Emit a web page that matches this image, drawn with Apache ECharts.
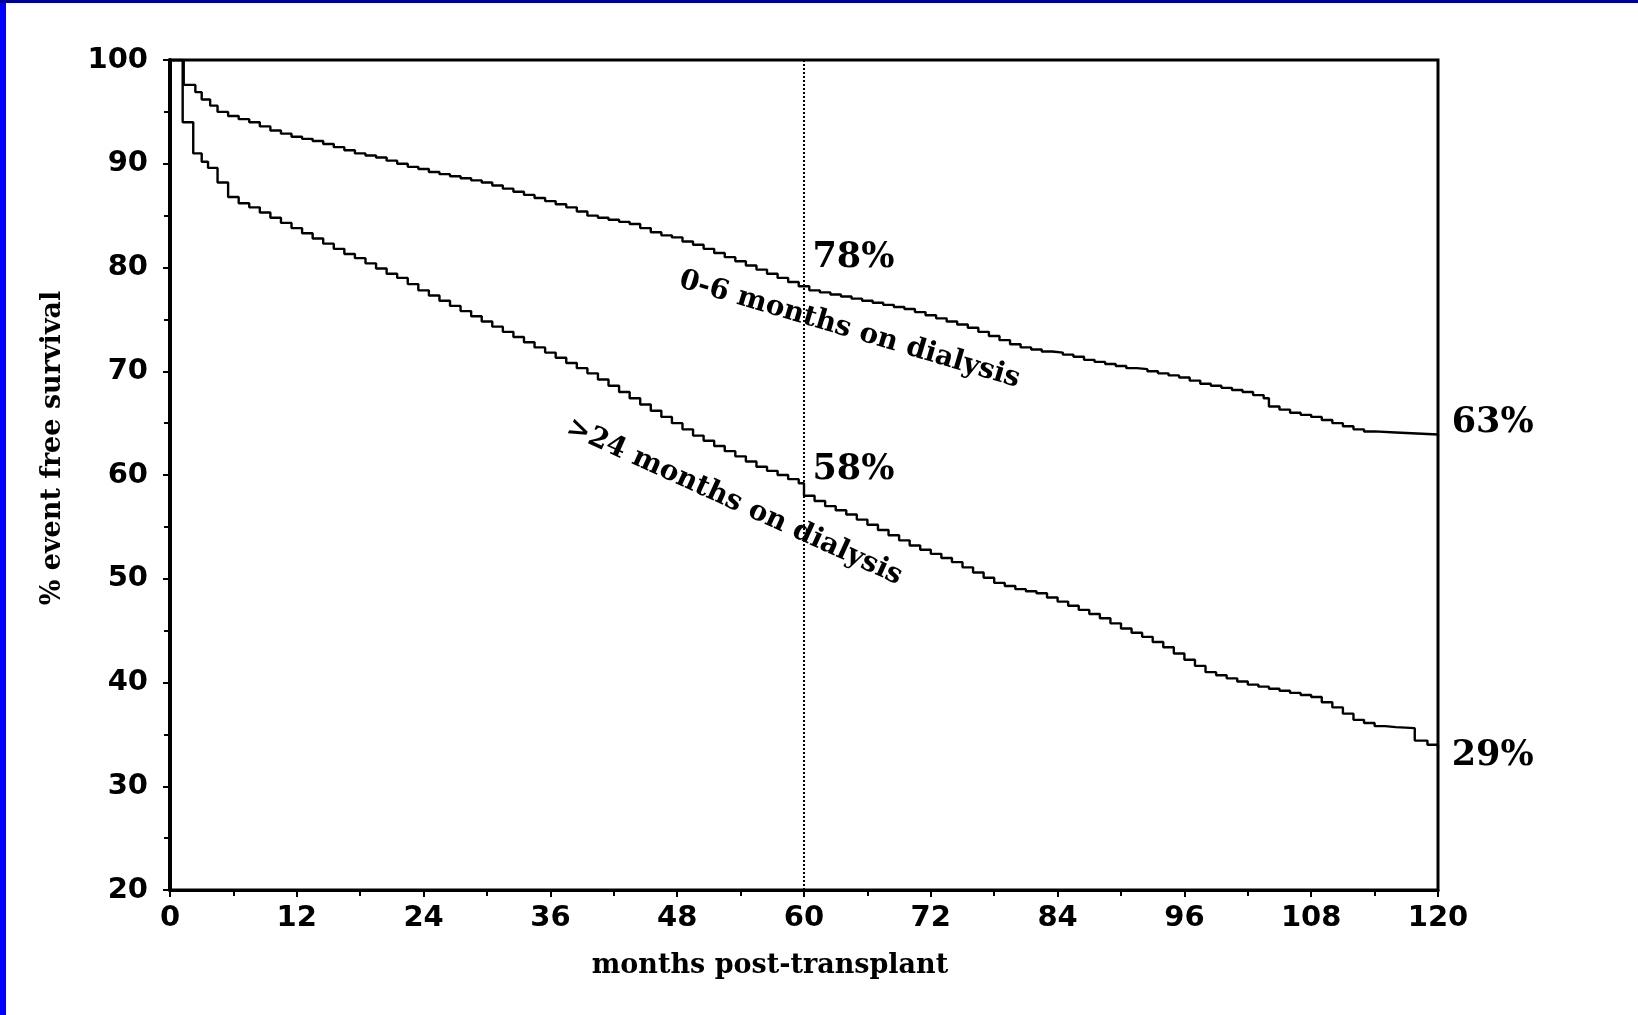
<!DOCTYPE html>
<html lang="en">
<head>
    <meta charset="UTF-8">
    <title>event free survival</title>
    <style>
        html, body { margin: 0; padding: 0; background: #fff; }
        #chart { width: 1638px; height: 1015px; }
        /* slide edges */
        .edge-left { position: absolute; left: 0; top: 0; width: 6px; height: 1015px; background: #0000ff; }
        .edge-top { position: absolute; left: 0; top: 0; width: 1638px; height: 3px; background: #000099; }
    </style>
</head>
<body>
<div id="chart"></div>
<div class="edge-left"></div>
<div class="edge-top"></div>

<script src="https://cdn.jsdelivr.net/npm/echarts@6/dist/echarts.min.js"></script>
<script>
    // ticks
    let xTicks = [0, 12, 24, 36, 48, 60, 72, 84, 96, 108, 120];
    let yTicks = [20, 30, 40, 50, 60, 70, 80, 90, 100];

    // months post-transplant / % event free
    let shortMonths = [0, 1.3, 2.4, 3, 3.8, 4.5, 5.5, 6.5, 7.5, 8.5, 9.5, 10.5, 11.5, 12.5, 13.5, 14.5, 15.5, 16.5, 17.5, 18.5, 19.5,
        20.5, 21.5, 22.5, 23.5, 24.5, 25.5, 26.5, 27.5, 28.5, 29.5, 30.5, 31.5, 32.5, 33.5, 34.5, 35.5, 36.5, 37.5, 38.5, 39.5,
        40.5, 41.5, 42.5, 43.5, 44.5, 45.5, 46.5, 47.5, 48.5, 49.5, 50.5, 51.5, 52.5, 53.5, 54.5, 55.5, 56.5, 57.5, 58.5, 59.5,
        60.5, 61.5, 62.5, 63.5, 64.5, 65.5, 66.5, 67.5, 68.5, 69.5, 70.5, 71.5, 72.5, 73.5, 74.5, 75.5, 76.5, 77.5, 78.5, 79.5,
        80.5, 81.5, 82.5, 83.5, 84.5, 85.5, 86.5, 87.5, 88.5, 89.5, 90.5, 91.5, 92.5, 93.5, 94.5, 95.5, 96.5, 97.5, 98.5, 99.5,
        100.5, 101.5, 102.5, 103.5, 104, 105, 106, 107, 108, 109, 110, 111, 112, 113, 114, 116, 118, 120];
    let shortSurv = [100, 97.6, 96.9, 96.2, 95.6, 95.0, 94.6, 94.3, 94.0, 93.6, 93.2, 92.9, 92.6, 92.4, 92.2, 91.9, 91.6, 91.3, 91.0, 90.8, 90.6,
        90.3, 90.0, 89.7, 89.5, 89.2, 89.0, 88.8, 88.6, 88.4, 88.2, 87.9, 87.6, 87.3, 87.0, 86.7, 86.4, 86.1, 85.8, 85.4, 85.0,
        84.8, 84.6, 84.4, 84.2, 83.8, 83.4, 83.1, 82.9, 82.5, 82.2, 81.8, 81.4, 81.0, 80.6, 80.2, 79.8, 79.4, 79.0, 78.6, 78.2,
        77.8, 77.6, 77.4, 77.2, 77.0, 76.8, 76.6, 76.4, 76.2, 76.0, 75.7, 75.4, 75.1, 74.8, 74.5, 74.2, 73.8, 73.4, 73.0, 72.6,
        72.3, 72.1, 71.9, 71.8, 71.6, 71.4, 71.1, 70.9, 70.7, 70.5, 70.3, 70.2, 70.0, 69.8, 69.6, 69.4, 69.1, 68.8, 68.6, 68.4,
        68.2, 68.0, 67.7, 67.4, 66.6, 66.3, 66.0, 65.8, 65.6, 65.3, 65.0, 64.7, 64.4, 64.2, 64.1, 64.0, 63.9, 63.8];

    let longMonths = [0, 1.2, 2.2, 3, 3.6, 4.5, 5.5, 6.5, 7.5, 8.5, 9.5, 10.5, 11.5, 12.5, 13.5, 14.5, 15.5, 16.5, 17.5, 18.5, 19.5,
        20.5, 21.5, 22.5, 23.5, 24.5, 25.5, 26.5, 27.5, 28.5, 29.5, 30.5, 31.5, 32.5, 33.5, 34.5, 35.5, 36.5, 37.5, 38.5, 39.5,
        40.5, 41.5, 42.5, 43.5, 44.5, 45.5, 46.5, 47.5, 48.5, 49.5, 50.5, 51.5, 52.5, 53.5, 54.5, 55.5, 56.5, 57.5, 58.5, 59.5,
        60, 61, 62, 63, 64, 65, 66, 67, 68, 69, 70, 71, 72, 73, 74, 75, 76, 77, 78, 79,
        80, 81, 82, 83, 84, 85, 86, 87, 88, 89, 90, 91, 92, 93, 94, 95, 96, 97, 98, 99,
        100, 101, 102, 103, 104, 105, 106, 107, 108, 109, 110, 111, 112, 113, 114, 115, 116, 117.8, 119, 120];
    let longSurv = [100, 94.0, 91.0, 90.2, 89.6, 88.2, 86.8, 86.2, 85.8, 85.3, 84.8, 84.3, 83.8, 83.3, 82.8, 82.3, 81.8, 81.3, 80.9, 80.4, 79.9,
        79.4, 79.0, 78.4, 77.8, 77.3, 76.8, 76.3, 75.8, 75.3, 74.8, 74.3, 73.8, 73.3, 72.8, 72.3, 71.8, 71.3, 70.8, 70.3, 69.8,
        69.2, 68.6, 68.0, 67.4, 66.8, 66.2, 65.6, 65.0, 64.4, 63.8, 63.3, 62.8, 62.3, 61.8, 61.3, 60.8, 60.4, 60.0, 59.6, 59.2,
        58.0, 57.5, 57.0, 56.6, 56.2, 55.7, 55.2, 54.7, 54.2, 53.7, 53.2, 52.8, 52.4, 52.0, 51.6, 51.1, 50.6, 50.1, 49.6, 49.3,
        49.0, 48.8, 48.6, 48.2, 47.8, 47.4, 47.0, 46.6, 46.2, 45.7, 45.2, 44.8, 44.4, 43.9, 43.4, 42.8, 42.2, 41.6, 41.0, 40.7,
        40.4, 40.1, 39.8, 39.6, 39.4, 39.2, 39.0, 38.8, 38.6, 38.1, 37.6, 37.0, 36.4, 36.1, 35.8, 35.7, 35.6, 34.4, 34.0, 33.6];

    // text on the plot: [month, %]
    let notes = [
        {text: '78%', at: [60.8, 80.9], size: 35, rotate: 0, align: 'left'},
        {text: '58%', at: [60.8, 60.5], size: 35, rotate: 0, align: 'left'},
        {text: '63%', at: [121.3, 65.0], size: 35, rotate: 0, align: 'left'},
        {text: '29%', at: [121.3, 32.9], size: 35, rotate: 0, align: 'left'},
        {text: '0-6 months on dialysis', at: [64.3, 74.0], size: 28, rotate: -16.5, align: 'center'},
        {text: '>24 months on dialysis', at: [53.4, 57.4], size: 28, rotate: -24.5, align: 'center'}
    ];

    function pairs(xs, ys) {
        return xs.map(function (x, i) { return [x, ys[i]]; });
    }

    let tickFont = {color: '#000', fontFamily: 'DejaVu Sans', fontWeight: 'bold', fontSize: 29};
    let serifBold = '"DejaVu Serif"';

    let chart = echarts.init(document.getElementById('chart'));
    let option = {
        animation: false,
        backgroundColor: '#fff',
        grid: {
            left: 170, right: 200, top: 60, bottom: 125,
            show: true, borderColor: '#000', borderWidth: 3
        },
        xAxis: {
            type: 'value',
            min: xTicks[0], max: xTicks[xTicks.length - 1], interval: xTicks[1] - xTicks[0],
            name: 'months post-transplant',
            nameLocation: 'middle', nameGap: 62,
            nameTextStyle: {color: '#000', fontFamily: serifBold, fontWeight: 'bold', fontSize: 27, padding: [0, 68, 0, 0]},
            axisLine: {lineStyle: {color: '#000', width: 3}},
            axisTick: {length: 7, lineStyle: {color: '#000', width: 2}},
            minorTick: {show: true, splitNumber: 2, length: 6, lineStyle: {color: '#000', width: 2}},
            axisLabel: Object.assign({margin: 14}, tickFont),
            splitLine: {show: false}
        },
        yAxis: {
            type: 'value',
            min: yTicks[0], max: yTicks[yTicks.length - 1], interval: yTicks[1] - yTicks[0],
            name: '% event free survival',
            nameLocation: 'middle', nameGap: 104, nameRotate: 90,
            nameTextStyle: {color: '#000', fontFamily: serifBold, fontWeight: 'bold', fontSize: 27, padding: [0, 0, 0, 54]},
            axisLine: {lineStyle: {color: '#000', width: 4}},
            axisTick: {length: 7, lineStyle: {color: '#000', width: 2}},
            minorTick: {show: true, splitNumber: 2, length: 6, lineStyle: {color: '#000', width: 2}},
            axisLabel: Object.assign({margin: 22}, tickFont),
            splitLine: {show: false}
        },
        series: [
            {
                name: '0-6 months on dialysis',
                type: 'line', step: 'end', symbol: 'none',
                data: pairs(shortMonths, shortSurv),
                lineStyle: {color: '#000', width: 2.4},
                markLine: {
                    silent: true, symbol: ['none', 'none'],
                    label: {show: false},
                    lineStyle: {color: '#000', type: 'dotted', width: 2},
                    data: [{xAxis: 60}]
                }
            },
            {
                name: '>24 months on dialysis',
                type: 'line', step: 'end', symbol: 'none',
                data: pairs(longMonths, longSurv),
                lineStyle: {color: '#000', width: 2.4}
            }
        ]
    };
    chart.setOption(option);

    // place the notes by data coords
    let graphics = notes.map(function (n) {
        let p = chart.convertToPixel({gridIndex: 0}, n.at);
        return {
            type: 'text', x: p[0], y: p[1], rotation: n.rotate * Math.PI / 180,
            style: {
                text: n.text, fill: '#000',
                font: 'bold ' + n.size + 'px ' + serifBold,
                align: n.align, textAlign: n.align,
                verticalAlign: 'middle', textVerticalAlign: 'middle'
            }
        };
    });
    chart.setOption({graphic: graphics});
</script>
</body>
</html>
